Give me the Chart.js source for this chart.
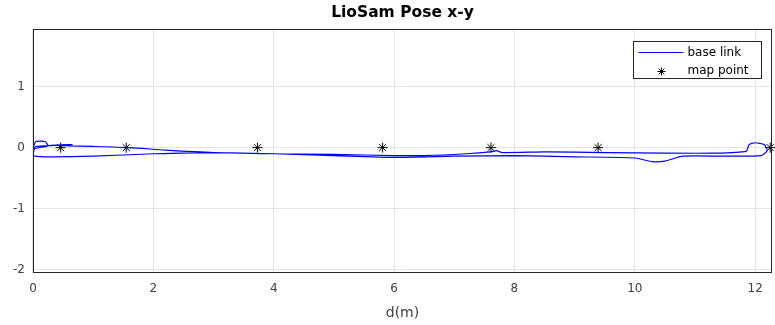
<!DOCTYPE html>
<html>
<head>
<meta charset="utf-8">
<script src="https://cdn.jsdelivr.net/npm/chart.js@4.4.0/dist/chart.umd.min.js"></script>
<style>
  html, body { margin: 0; padding: 0; background: #fff; }
  #wrap { width: 775px; height: 325px; }
</style>
</head>
<body>
<div id="wrap"><canvas id="chart"></canvas></div>
<script>
// base link trajectory (x, y)
const pathX = [0.0, 0.05, 0.2, 0.25, 0.1, 0.0, 0.05, 0.65, 0.3, 0.6, 1.0, 1.6, 2.2, 3.0, 4.0, 5.0, 6.0, 6.5, 7.2, 7.6, 7.7, 7.8, 8.5, 9.5, 10.5, 11.3, 11.85, 11.9, 12.0, 12.15, 12.2, 12.1, 11.5, 10.8, 10.5, 10.3, 10.0, 9.0, 8.0, 7.0, 6.0, 5.0, 4.0, 3.0, 2.0, 1.0, 0.2, 0.0, 0.02];
const pathY = [0.0, 0.1, 0.1, 0.03, 0.0, -0.02, 0.02, 0.05, 0.04, 0.03, 0.02, 0.0, -0.04, -0.08, -0.1, -0.11, -0.13, -0.13, -0.1, -0.07, -0.05, -0.08, -0.07, -0.08, -0.09, -0.09, -0.06, 0.05, 0.08, 0.05, -0.05, -0.13, -0.14, -0.14, -0.22, -0.23, -0.17, -0.15, -0.13, -0.14, -0.16, -0.13, -0.1, -0.08, -0.1, -0.14, -0.15, -0.13, -0.02];

// map points
const mapX = [0.46, 1.55, 3.73, 5.81, 7.61, 9.39, 12.25];
const mapY = [0, 0, 0, 0, 0, 0, 0];

const xTicks = [0, 2, 4, 6, 8, 10, 12];
const yTicks = [-2, -1, 0, 1];

const pathData = pathX.map((x, i) => ({ x: x, y: pathY[i] }));
const mapData = mapX.map((x, i) => ({ x: x, y: mapY[i] }));

// box around the plot + legend inside top right
const boxPlugin = {
  id: 'boxLegend',
  afterDraw(chart) {
    const ctx = chart.ctx;
    const a = chart.chartArea;
    ctx.save();
    ctx.strokeStyle = '#262626';
    ctx.lineWidth = 1;
    ctx.strokeRect(Math.round(a.left) + 0.5, Math.round(a.top) + 0.5, Math.round(a.right - a.left) - 1, Math.round(a.bottom - a.top) - 1);

    // legend
    const w = 128, h = 37;
    const lx = Math.round(a.right) - w - 11 + 0.5;
    const ly = Math.round(a.top) + 12 + 0.5;
    ctx.fillStyle = '#fff';
    ctx.fillRect(lx, ly, w, h);
    ctx.strokeStyle = '#262626';
    ctx.strokeRect(lx, ly, w, h);

    ctx.strokeStyle = '#0000ff';
    ctx.lineWidth = 1.2;
    ctx.beginPath();
    ctx.moveTo(lx + 5, ly + 11);
    ctx.lineTo(lx + 50, ly + 11);
    ctx.stroke();

    ctx.strokeStyle = '#000';
    ctx.lineWidth = 1;
    const cx = lx + 28, cy = ly + 30, r = 4;
    ctx.beginPath();
    for (let k = 0; k < 4; k++) {
      const t = k * Math.PI / 4;
      ctx.moveTo(cx - r * Math.cos(t), cy - r * Math.sin(t));
      ctx.lineTo(cx + r * Math.cos(t), cy + r * Math.sin(t));
    }
    ctx.stroke();

    ctx.fillStyle = '#000';
    ctx.font = '12px "DejaVu Sans"';
    ctx.textBaseline = 'middle';
    ctx.fillText('base link', lx + 54, ly + 11);
    ctx.fillText('map point', lx + 54, ly + 29);
    ctx.restore();
  }
};

new Chart(document.getElementById('chart'), {
  type: 'scatter',
  data: {
    datasets: [
      {
        label: 'base link',
        data: pathData,
        showLine: true,
        borderColor: '#0000ff',
        borderWidth: 1.2,
        pointRadius: 0,
        tension: 0.2
      },
      {
        label: 'map point',
        data: mapData,
        pointStyle: 'star',
        pointRadius: 5,
        borderColor: '#000',
        backgroundColor: '#000',
        borderWidth: 1,
        clip: false
      }
    ]
  },
  options: {
    responsive: true,
    maintainAspectRatio: false,
    animation: false,
    layout: { autoPadding: false, padding: { left: 5, right: 3, top: 0, bottom: 3 } },
    plugins: {
      legend: { display: false },
      tooltip: { enabled: false },
      title: {
        display: true,
        fullSize: false,
        text: 'LioSam Pose x-y',
        color: '#000',
        font: { family: 'DejaVu Sans', size: 15.5, weight: 'bold' },
        padding: { top: 4, bottom: 6 }
      }
    },
    scales: {
      x: {
        type: 'linear',
        min: 0,
        max: 12.28,
        afterBuildTicks: axis => { axis.ticks = xTicks.map(v => ({ value: v })); },
        afterFit: axis => { axis.paddingRight = 0; },
        grid: { color: '#e3e3e3', drawTicks: false },
        border: { display: false },
        ticks: { color: '#404040', padding: 9, font: { family: 'DejaVu Sans', size: 12 } },
        title: { display: true, text: 'd(m)', color: '#404040', padding: { top: 0, bottom: 0 }, font: { family: 'DejaVu Sans', size: 14 } }
      },
      y: {
        type: 'linear',
        min: -2.05,
        max: 1.95,
        afterBuildTicks: axis => { axis.ticks = yTicks.map(v => ({ value: v })); },
        grid: { color: '#e3e3e3', drawTicks: false },
        border: { display: false },
        ticks: { color: '#404040', padding: 8, font: { family: 'DejaVu Sans', size: 12 } }
      }
    }
  },
  plugins: [boxPlugin]
});
</script>
</body>
</html>
